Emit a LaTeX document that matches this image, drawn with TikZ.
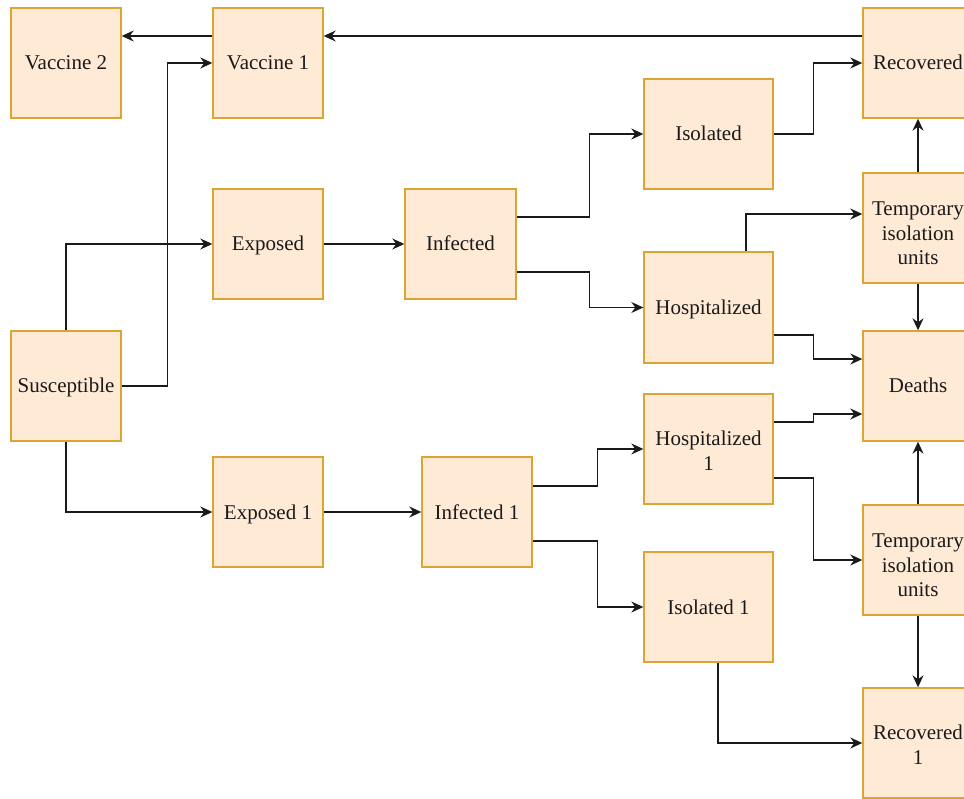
\documentclass[tikz,border=0pt]{standalone}
\usepackage{fontspec}
\setmainfont{Liberation Serif}
\usetikzlibrary{arrows.meta}
\definecolor{boxfill}{HTML}{FFEAD6}
\definecolor{boxline}{HTML}{DCA433}
\definecolor{ink}{HTML}{1A1A1A}
\newcommand{\toppad}[1]{\rule{0pt}{#1}}
\tikzset{
  box/.style={draw=boxline, fill=boxfill, line width=1.4pt, minimum width=110pt, minimum height=110pt,
    inner sep=0pt, align=center, text=ink, font=\fontsize{21}{24.5}\selectfont},
  wbox/.style={box, minimum width=129pt},
  sl/.style={text height=14pt, text depth=0pt},
  arr/.style={draw=ink, line width=1.3pt, -{Stealth[length=12pt,width=11pt,inset=4pt]}}
}
\begin{document}
\begin{tikzpicture}[x=1pt,y=-1pt]
\clip (0,0) rectangle (964,799);
\fill[white] (0,0) rectangle (964,799);
% nodes
\node[box, sl] (vac2) at (66,63) {Vaccine 2};
\node[box, sl] (vac1) at (268,63) {Vaccine 1};
\node[box, sl] (rec) at (918,63) {Recovered};
\node[wbox, sl] (iso) at (708.5,134) {Isolated};
\node[box, sl] (exp) at (268,244) {Exposed};
\node[box, sl, minimum width=111pt] (inf) at (460.5,244) {Infected};
\node[wbox, sl, minimum height=111pt] (hosp) at (708.5,307.5) {Hospitalized};
\node[box] (tmp) at (918,228) {\toppad{24.3pt}Temporary\\isolation\\units};
\node[box, sl] (sus) at (66,386) {Susceptible};
\node[box, sl] (dea) at (918,386) {Deaths};
\node[wbox] (hosp1) at (708.5,449) {\toppad{17.7pt}Hospitalized\\1};
\node[box, sl] (exp1) at (268,512) {Exposed 1};
\node[box, sl] (inf1) at (477,512) {Infected 1};
\node[box] (tmp2) at (918,560) {\toppad{24.3pt}Temporary\\isolation\\units};
\node[wbox, sl] (iso1) at (708.5,607) {Isolated 1};
\node[box] (rec1) at (918,743) {\toppad{18.3pt}Recovered\\1};
% connectors
\draw[arr] (vac1.west |- 0,36) -- (vac2.east |- 0,36);
\draw[arr] (rec.west |- 0,36) -- (vac1.east |- 0,36);
\draw[arr] (sus.east) -- ++(46,0) |- (vac1.west);
\draw[arr] (sus.north) |- (exp.west);
\draw[arr] (sus.south) |- (exp1.west);
\draw[arr] (exp.east) -- (inf.west);
\draw[arr] (exp1.east) -- (inf1.west);
\draw[arr] (inf.east |- 0,217) -- ++(73,0) |- (iso.west);
\draw[arr] (inf.east |- 0,272) -- ++(73,0) |- (hosp.west);
\draw[arr] (iso.east) -- ++(40,0) |- (rec.west);
\draw[arr] ([xshift=37.5pt]hosp.north) |- (tmp.west |- 0,214);
\draw[arr] (hosp.east |- 0,335) -- ++(40,0) |- (dea.west |- 0,359);
\draw[arr] (tmp.north) -- (rec.south);
\draw[arr] (tmp.south) -- (dea.north);
\draw[arr] (inf1.east |- 0,486) -- ++(65,0) |- (hosp1.west);
\draw[arr] (inf1.east |- 0,541) -- ++(65,0) |- (iso1.west);
\draw[arr] (hosp1.east |- 0,422) -- ++(40,0) |- (dea.west |- 0,414);
\draw[arr] (hosp1.east |- 0,478) -- ++(40,0) |- (tmp2.west);
\draw[arr] (tmp2.north) -- (dea.south);
\draw[arr] (tmp2.south) -- (rec1.north);
\draw[arr] ([xshift=9.5pt]iso1.south) |- (rec1.west);
\end{tikzpicture}
\end{document}
